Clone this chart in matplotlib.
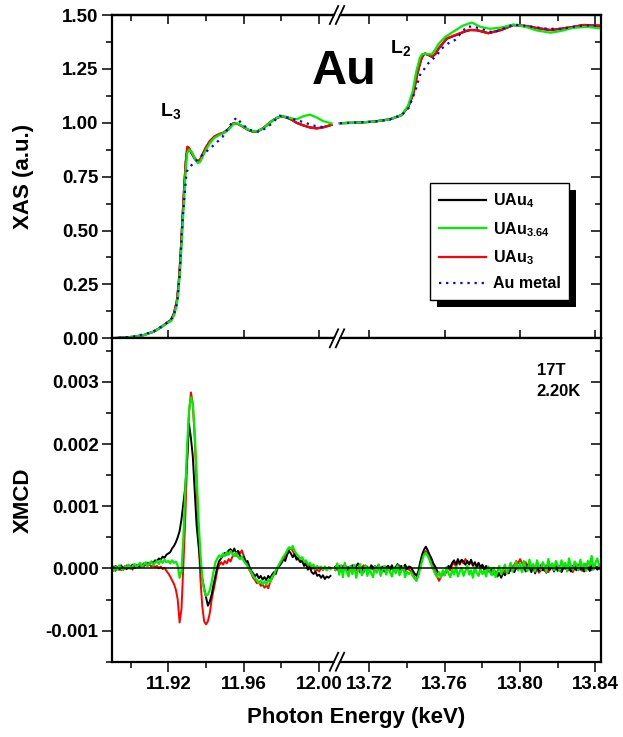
import numpy as np
import matplotlib
matplotlib.use("Agg")
import matplotlib.pyplot as plt
from matplotlib.patches import Rectangle, Polygon
from matplotlib.lines import Line2D
from matplotlib.transforms import IdentityTransform
from matplotlib.ticker import MultipleLocator, FormatStrFormatter

plt.rcParams['font.family'] = ['Liberation Sans', 'DejaVu Sans']
plt.rcParams['font.weight'] = 'bold'
plt.rcParams['axes.labelweight'] = 'bold'
plt.rcParams['mathtext.fontset'] = 'custom'
plt.rcParams['mathtext.rm'] = 'Liberation Sans:bold'
plt.rcParams['mathtext.it'] = 'Liberation Sans:bold'
plt.rcParams['mathtext.bf'] = 'Liberation Sans:bold'
plt.rcParams['mathtext.default'] = 'rm'

# ---------------- XAS data (L3 edge, left segment) ----------------
xas_l3_x = [11.890, 11.896, 11.9015, 11.907, 11.912, 11.916, 11.919, 11.9215, 11.923, 11.9245,
            11.9255, 11.9265, 11.9275, 11.9285, 11.9293, 11.9301, 11.931, 11.9324, 11.934, 11.9356,
            11.937, 11.9385, 11.940, 11.942, 11.9445, 11.947, 11.9495, 11.952, 11.9545, 11.957,
            11.9597, 11.9625, 11.965, 11.9675, 11.9703, 11.973, 11.9756, 11.978, 11.980, 11.9825,
            11.9854, 11.988, 11.9915, 11.995, 11.9986, 12.002, 12.0065]
xas_l3_black = [0.0, 0.003, 0.007, 0.015, 0.03, 0.05, 0.07, 0.085, 0.115, 0.17,
                0.25, 0.38, 0.55, 0.71, 0.82, 0.885, 0.88, 0.858, 0.833, 0.817,
                0.83, 0.858, 0.885, 0.913, 0.935, 0.946, 0.954, 0.972, 0.997, 0.994,
                0.981, 0.966, 0.958, 0.961, 0.974, 0.994, 1.012, 1.024, 1.029, 1.025,
                1.014, 1.0, 0.988, 0.979, 0.974, 0.979, 0.99]
xas_l3_red = [0.0, 0.003, 0.007, 0.015, 0.03, 0.05, 0.07, 0.085, 0.115, 0.17,
              0.25, 0.38, 0.55, 0.71, 0.82, 0.889, 0.884, 0.862, 0.836, 0.818,
              0.832, 0.86, 0.887, 0.915, 0.937, 0.948, 0.955, 0.972, 0.998, 0.995,
              0.982, 0.967, 0.959, 0.962, 0.975, 0.995, 1.013, 1.025, 1.03, 1.026,
              1.015, 1.0, 0.988, 0.978, 0.974, 0.978, 0.99]
xas_l3_green = [0.0, 0.003, 0.007, 0.015, 0.03, 0.05, 0.068, 0.08, 0.105, 0.155,
                0.23, 0.35, 0.51, 0.67, 0.79, 0.86, 0.876, 0.865, 0.835, 0.812,
                0.82, 0.848, 0.875, 0.905, 0.93, 0.943, 0.952, 0.968, 0.995, 0.996,
                0.983, 0.968, 0.96, 0.962, 0.973, 0.993, 1.012, 1.025, 1.03, 1.028,
                1.02, 1.016, 1.03, 1.038, 1.025, 1.008, 0.997]
xas_l3_metal_x = [11.890, 11.9015, 11.912, 11.919, 11.9227, 11.9248, 11.926, 11.927, 11.928, 11.929,
                  11.9297, 11.9324, 11.936, 11.940, 11.9442, 11.9488, 11.9512, 11.9537, 11.9562, 11.959,
                  11.9625, 11.9655, 11.9689, 11.974, 11.979, 11.9854, 11.9933, 11.9968, 12.0039]
xas_l3_metal = [0.0, 0.007, 0.03, 0.07, 0.10, 0.17, 0.29, 0.46, 0.60, 0.70,
                0.773, 0.804, 0.835, 0.865, 0.897, 0.935, 0.967, 1.0, 1.024, 0.995,
                0.97, 0.96, 0.959, 0.99, 1.033, 1.02, 0.998, 0.987, 0.977]

# ---------------- XAS data (L2 edge, right segment) ----------------
xas_l2_x = [13.7044, 13.712, 13.7221, 13.731, 13.7372, 13.7407, 13.7434, 13.7455, 13.7473, 13.7485,
            13.7496, 13.7515, 13.7532, 13.755, 13.7567, 13.7611, 13.7655, 13.7709, 13.7735, 13.7771,
            13.7832, 13.790, 13.7965, 13.8036, 13.809, 13.816, 13.8213, 13.828, 13.8337, 13.8425]
xas_l2_red = [0.998, 1.0, 1.005, 1.016, 1.036, 1.075, 1.137, 1.23, 1.29, 1.315,
              1.322, 1.315, 1.307, 1.32, 1.345, 1.392, 1.407, 1.425, 1.431, 1.43,
              1.415, 1.43, 1.454, 1.449, 1.44, 1.431, 1.436, 1.445, 1.454, 1.451]
xas_l2_black = [0.998, 1.0, 1.005, 1.016, 1.036, 1.074, 1.135, 1.228, 1.288, 1.313,
                1.32, 1.314, 1.306, 1.318, 1.343, 1.39, 1.405, 1.424, 1.43, 1.429,
                1.416, 1.431, 1.453, 1.448, 1.439, 1.43, 1.435, 1.444, 1.453, 1.45]
xas_l2_green_x = [13.7044, 13.712, 13.7221, 13.731, 13.7372, 13.7405, 13.743, 13.745, 13.7468, 13.748,
                  13.7496, 13.7515, 13.7532, 13.755, 13.7567, 13.7602, 13.765, 13.7695, 13.7744, 13.779,
                  13.7841, 13.790, 13.7965, 13.8036, 13.809, 13.816, 13.8213, 13.828, 13.8355, 13.8425]
xas_l2_green = [0.998, 1.0, 1.005, 1.016, 1.036, 1.078, 1.145, 1.24, 1.30, 1.318,
                1.32, 1.318, 1.318, 1.34, 1.365, 1.398, 1.425, 1.45, 1.465, 1.445,
                1.436, 1.442, 1.456, 1.443, 1.428, 1.418, 1.425, 1.44, 1.445, 1.438]
xas_l2_metal_x = [13.7044, 13.7221, 13.731, 13.7372, 13.741, 13.7445, 13.7469, 13.7513, 13.7555, 13.7585,
                  13.762, 13.7655, 13.7717, 13.7753, 13.7859, 13.7965, 13.8036, 13.8143, 13.8213, 13.8337,
                  13.8425]
xas_l2_metal = [0.998, 1.005, 1.016, 1.036, 1.07, 1.15, 1.222, 1.276, 1.31, 1.345,
                1.369, 1.384, 1.446, 1.446, 1.418, 1.456, 1.449, 1.436, 1.436, 1.452,
                1.45]

# ---------------- XMCD data (units of 1e-4) ----------------
xmcd_l3_x = np.round(np.arange(11.890, 12.0065, 0.001), 3)
xmcd_l3_black = [0.2, -0.3, 0.4, 0.1, -0.2, 0.5, 0.0, 0.3, -0.1, 0.4,
                 0.2, 0.6, 0.1, 0.5, 0.3, 0.7, 0.4, 0.8, 0.6, 0.9,
                 0.8, 1.1, 0.9, 1.3, 1.2, 1.6, 1.4, 1.9, 1.7, 2.2,
                 2.4, 2.6, 3.2, 3.6, 4.2, 5.0, 6.0, 7.9, 10.5, 13.0,
                 17.5, 23.2, 21.0, 18.0, 12.5, 7.0, 3.8, 0.8, -1.6, -3.2,
                 -4.6, -6.0, -5.3, -4.2, -2.6, -1.2, 0.3, 1.2, 1.6, 2.1,
                 2.5, 2.2, 2.9, 3.1, 2.6, 3.2, 2.4, 2.8, 2.0, 1.6,
                 1.9, 1.0, 1.2, 0.3, -0.4, -0.8, -1.3, -0.9, -1.6, -1.2,
                 -1.8, -1.4, -1.9, -1.2, -1.6, -1.0, -0.6, -0.9, 0.1, 0.4,
                 0.9, 1.5, 1.2, 2.2, 2.8, 2.4, 1.8, 2.3, 1.4, 1.7,
                 1.0, 1.2, 0.4, 0.7, -0.2, 0.2, -0.6, -0.9, -0.5, -1.2,
                 -1.0, -1.5, -1.1, -1.7, -1.3, -1.5, -1.2]
xmcd_l3_red = [-0.2, 0.3, -0.4, 0.1, 0.4, -0.3, 0.2, -0.1, 0.5, 0.0,
               0.3, -0.2, 0.4, 0.1, 0.6, 0.2, 0.5, 0.3, 0.7, 0.4,
               0.6, 0.3, 0.5, 0.2, 0.4, 0.0, 0.3, -0.1, 0.1, -0.4,
               -0.8, -1.3, -1.9, -2.5, -3.4, -5.0, -8.7, -6.5, 0.5, 8.0,
               17.5, 25.0, 28.3, 26.5, 21.0, 13.5, 5.5, -1.5, -6.0, -8.5,
               -9.0, -8.5, -7.2, -5.0, -3.5, -2.0, -0.3, 0.5, 1.0, 0.6,
               1.2, 0.8, 1.5, 1.1, 1.9, 2.3, 2.0, 2.8, 2.4, 2.9,
               2.0, 1.2, 0.5, -0.3, -0.8, -1.5, -1.9, -2.4, -2.1, -2.8,
               -2.6, -3.1, -2.7, -3.2, -2.2, -1.6, -1.0, -0.4, 0.2, 0.6,
               0.9, 1.4, 2.0, 2.4, 3.0, 3.3, 2.8, 2.2, 1.8, 1.4,
               1.1, 1.3, 0.7, 0.9, 0.3, 0.5, -0.1, 0.2, -0.4, -0.2,
               -0.5, 0.1, -0.3, 0.3, -0.1, 0.2, 0.1]
xmcd_l3_green = [0.1, -0.4, 0.3, -0.2, 0.5, 0.0, -0.3, 0.4, 0.1, 0.6,
                 -0.1, 0.3, 0.7, 0.2, 0.5, 0.9, 0.3, 0.6, 1.0, 0.4,
                 0.8, 1.1, 0.5, 0.9, 1.2, 0.7, 1.3, 0.9, 1.4, 1.0,
                 1.2, 0.8, 1.3, 0.9, 1.1, 0.4, -1.5, -0.4, 5.0, 12.5,
                 19.7, 25.5, 27.5, 26.5, 22.0, 15.5, 8.0, 2.5, -1.5, -3.5,
                 -4.4, -4.2, -3.5, -2.2, -0.5, 1.0, 1.6, 2.1, 1.8, 2.4,
                 2.0, 2.6, 2.2, 2.8, 2.3, 2.0, 2.5, 1.8, 1.5, 1.9,
                 1.2, 0.8, 0.4, -0.2, -0.6, -1.2, -1.6, -1.9, -2.4, -2.0,
                 -2.5, -2.1, -2.6, -1.8, -2.2, -1.4, -1.0, -0.3, 0.2, 0.8,
                 1.3, 1.9, 2.3, 2.9, 3.4, 3.1, 3.6, 2.8, 2.3, 2.0,
                 1.5, 1.8, 1.1, 1.3, 0.6, 0.9, 0.3, 0.6, -0.1, 0.4,
                 0.0, 0.3, -0.2, 0.2, -0.3, 0.1, -0.1]

xmcd_l2_x = np.round(np.arange(13.702, 13.8425, 0.001), 3)
xmcd_l2_black = [0.3, -0.2, 0.4, -0.5, 0.1, 0.6, -0.3, 0.2, -0.1, 0.5,
                 -0.4, 0.3, 0.8, -0.2, 0.1, -0.6, 0.4, 0.0, -0.3, 0.5,
                 0.2, -0.4, 0.1, 0.6, -0.2, 0.3, -0.5, 0.2, 0.4, -0.1,
                 0.5, -0.3, 0.1, 0.7, -0.2, 0.4, 0.0, 0.6, -0.1, 0.3,
                 0.2, -0.3, -0.8, -1.2, -0.5, 1.0, 2.2, 3.0, 3.5, 2.9,
                 2.2, 1.6, 0.8, 0.3, -0.4, -0.9, -1.1, -0.6, -0.9, -0.3,
                 0.4, 0.2, 0.9, 1.3, 0.6, 1.5, 0.8, 1.4, 1.1, 0.6,
                 1.2, 0.7, 1.4, 0.5, 1.0, 0.3, 0.9, 0.2, 0.6, -0.1,
                 0.4, -0.3, -0.6, -0.2, -0.9, -0.5, -1.3, -0.8, -1.5, -0.7,
                 -1.1, -0.4, -0.8, 0.1, -0.3, -0.6, 0.2, -0.2, 0.5, -0.4,
                 0.3, -0.5, 0.6, 0.1, -0.6, 0.4, -0.8, 0.2, -0.4, 0.5,
                 -0.3, 0.1, -0.7, 0.3, -0.2, 0.6, -0.5, 0.2, -0.4, 0.4,
                 -0.6, 0.1, 0.5, -0.3, 0.2, -0.5, 0.4, 0.0, -0.3, 0.6,
                 -0.2, 0.3, -0.5, 0.4, 0.1, -0.4, 0.5, -0.1, 0.3, -0.2,
                 0.1]
xmcd_l2_red = [-0.3, 0.2, -0.5, 0.1, 0.4, -0.2, 0.3, -0.4, 0.2, -0.1,
               0.4, -0.3, 0.1, -0.6, 0.2, 0.5, -0.2, 0.3, -0.5, 0.1,
               -0.2, 0.4, -0.4, 0.2, 0.0, -0.5, 0.3, -0.1, 0.4, -0.3,
               0.1, -0.4, 0.3, -0.2, 0.5, -0.3, 0.1, -0.5, 0.2, -0.2,
               -0.4, -0.9, -1.5, -1.8, -1.0, 0.3, 1.5, 2.4, 2.8, 2.3,
               1.6, 0.9, 0.2, -0.6, -1.3, -2.0, -1.4, -0.8, -1.1, -0.4,
               0.1, -0.3, 0.6, 0.9, 0.3, 1.1, 0.6, 1.3, 0.8, 1.5,
               1.0, 0.6, 1.2, 0.4, 0.9, 0.2, 0.7, -0.1, 0.4, -0.3,
               0.2, -0.5, -0.2, -0.7, -0.4, -0.9, -0.6, -1.0, -0.5, -0.8,
               -0.3, -0.6, 0.0, -0.4, 0.3, 0.6, 1.2, 0.8, 1.5, 0.9,
               0.6, 1.0, 0.3, 0.7, -0.2, 0.4, -0.5, 0.1, -0.7, -0.3,
               0.2, -0.4, 0.5, -0.6, 0.1, 0.4, -0.3, 0.6, -0.2, 0.3,
               -0.4, 0.2, -0.1, 0.5, -0.3, 0.4, -0.6, 0.1, 0.6, -0.2,
               0.3, -0.4, 0.2, 0.7, -0.1, 0.4, -0.3, 0.5, 0.0, 0.3,
               -0.1]
xmcd_l2_green = [-0.2, 0.8, -1.0, 0.5, -1.4, 0.9, -0.6, -1.3, 0.4, -0.9,
                 0.6, -1.5, -0.3, 0.7, -1.1, -0.4, 0.5, -1.2, 0.2, -0.8,
                 -1.4, 0.3, -0.7, 0.6, -1.2, -0.2, 0.4, -1.0, 0.1, -0.6,
                 -1.3, 0.2, -0.8, 0.5, -1.1, -0.3, 0.3, -1.4, -0.5, -0.9,
                 -0.6, -1.2, -1.6, -2.0, -1.2, 0.0, 1.2, 2.2, 2.5, 2.0,
                 1.3, 0.5, -0.2, -0.9, -1.4, -0.6, -1.5, -0.3, -1.1, 0.2,
                 -0.8, -1.4, -0.2, -1.0, 0.3, -1.3, -0.5, 0.1, -1.2, -0.4,
                 0.4, -1.0, -0.3, -1.5, 0.2, -0.7, -1.2, 0.0, -0.9, -0.4,
                 -1.3, 0.3, -0.6, -1.1, 0.1, -1.4, -0.5, 0.4, -1.0, -0.2,
                 0.6, -0.8, -0.1, 0.9, -0.5, 0.3, 1.1, -0.3, 0.8, -0.6,
                 1.2, 0.2, -0.4, 1.4, 0.0, 0.7, -0.5, 1.3, 0.3, -0.2,
                 1.0, 0.4, -0.6, 1.5, 0.1, 0.8, -0.3, 1.2, 0.5, -0.4,
                 1.3, 0.2, 0.9, -0.5, 1.6, 0.3, -0.2, 1.1, 0.6, -0.3,
                 1.4, 0.1, 0.8, -0.4, 1.2, 0.5, 2.0, -0.2, 0.9, 1.6,
                 0.4]

assert len(xmcd_l3_x) == len(xmcd_l3_black) == len(xmcd_l3_red) == len(xmcd_l3_green)
assert len(xmcd_l2_x) == len(xmcd_l2_black) == len(xmcd_l2_red) == len(xmcd_l2_green)

series_labels = ['UAu$_4$', 'UAu$_{3.64}$', 'UAu$_3$', 'Au metal']
c_black, c_green, c_red, c_blue = '#000000', '#00ee00', '#ff0000', '#0000ff'

# ---------------- figure layout ----------------
W, H = 623, 737
fig = plt.figure(figsize=(W / 100, H / 100), dpi=100)
L, S, R = 111.7 / W, 333.5 / W, 600.5 / W
yt, ym, yb = 1 - 15 / H, 1 - 338.3 / H, 1 - 661.7 / H
axTL = fig.add_axes([L, ym, S - L, yt - ym])
axTR = fig.add_axes([S, ym, R - S, yt - ym])
axBL = fig.add_axes([L, yb, S - L, ym - yb])
axBR = fig.add_axes([S, yb, R - S, ym - yb])

xl_left = (11.89, 12.0076)
xl_right = (13.701, 13.8427)
SPW = 1.6

for ax in (axTL, axTR, axBL, axBR):
    for sp in ax.spines.values():
        sp.set_linewidth(SPW)
    ax.xaxis.set_major_locator(MultipleLocator(0.04))
    ax.xaxis.set_minor_locator(MultipleLocator(0.02))
    ax.xaxis.set_major_formatter(FormatStrFormatter('%.2f'))
for ax in (axTL, axBL):
    ax.spines['right'].set_visible(False)
    ax.set_xlim(*xl_left)
for ax in (axTR, axBR):
    ax.spines['left'].set_visible(False)
    ax.set_xlim(*xl_right)

for ax in (axTL, axTR):
    ax.set_ylim(0, 1.5)
    ax.yaxis.set_major_locator(MultipleLocator(0.25))
    ax.yaxis.set_minor_locator(MultipleLocator(0.125))
    ax.yaxis.set_major_formatter(FormatStrFormatter('%.2f'))
for ax in (axBL, axBR):
    ax.set_ylim(-0.0015, 0.0037)
    ax.yaxis.set_major_locator(MultipleLocator(0.001))
    ax.yaxis.set_minor_locator(MultipleLocator(0.0005))
    ax.yaxis.set_major_formatter(FormatStrFormatter('%.3f'))

TW = 1.1
TLS = 13.5
for ax in (axTL, axBL):
    ax.tick_params(axis='y', which='both', left=True, right=False, direction='out',
                   labelleft=True, labelsize=TLS, width=TW, pad=2.5)
    ax.tick_params(axis='y', which='major', length=7)
    ax.tick_params(axis='y', which='minor', length=4)
for ax in (axTR, axBR):
    ax.tick_params(axis='y', which='both', left=False, right=True, direction='in',
                   labelleft=False, labelright=False, width=TW)
    ax.tick_params(axis='y', which='major', length=7.5)
    ax.tick_params(axis='y', which='minor', length=4)

for ax in (axTL, axTR):
    ax.tick_params(axis='x', which='both', top=False, bottom=True, labelbottom=False, width=TW)
    ax.tick_params(axis='x', which='major', direction='inout', length=12)
    ax.tick_params(axis='x', which='minor', direction='out', length=5)
    sec = ax.secondary_xaxis('top')
    sec.xaxis.set_major_locator(MultipleLocator(0.04))
    sec.xaxis.set_minor_locator(MultipleLocator(0.02))
    sec.tick_params(axis='x', which='both', direction='in', labeltop=False, width=TW)
    sec.tick_params(axis='x', which='major', length=6.5)
    sec.tick_params(axis='x', which='minor', length=4)
    sec.spines['top'].set_linewidth(SPW)
    for side in ('left', 'right', 'bottom'):
        if side in sec.spines:
            sec.spines[side].set_visible(False)

for ax in (axBL, axBR):
    ax.tick_params(axis='x', which='both', top=False, bottom=True, direction='out',
                   labelbottom=True, labelsize=TLS, width=TW, pad=3.5)
    ax.tick_params(axis='x', which='major', length=7)
    ax.tick_params(axis='x', which='minor', length=4)

# ---------------- XAS curves ----------------
LW = 1.6
for ax, x, xg, xm, yb_, yr_, yg_, ym_ in (
        (axTL, xas_l3_x, xas_l3_x, xas_l3_metal_x, xas_l3_black, xas_l3_red, xas_l3_green, xas_l3_metal),
        (axTR, xas_l2_x, xas_l2_green_x, xas_l2_metal_x, xas_l2_black, xas_l2_red, xas_l2_green, xas_l2_metal)):
    hb, = ax.plot(x, yb_, color=c_black, lw=LW, label=series_labels[0])
    hr, = ax.plot(x, yr_, color=c_red, lw=LW, label=series_labels[2])
    hg, = ax.plot(xg, yg_, color=c_green, lw=LW, label=series_labels[1])
    hm, = ax.plot(xm, ym_, color=c_blue, lw=1.6, ls=(0, (1, 2.2)), label=series_labels[3])

leg = axTR.legend([hb, hg, hr, hm], series_labels, loc='upper left',
                  bbox_to_anchor=(0.363, 0.481), borderaxespad=0, fancybox=False,
                  edgecolor='black', framealpha=1, fontsize=11.5, handlelength=2.9,
                  handletextpad=0.45, labelspacing=0.6, borderpad=0.55)
leg.get_frame().set_linewidth(1.0)
leg.set_zorder(6)

# ---------------- XMCD curves ----------------
scale = 1e-4
for ax, x, yb_, yr_, yg_ in ((axBL, xmcd_l3_x, xmcd_l3_black, xmcd_l3_red, xmcd_l3_green),
                             (axBR, xmcd_l2_x, xmcd_l2_black, xmcd_l2_red, xmcd_l2_green)):
    ax.plot(x, np.array(yr_) * scale, color=c_red, lw=1.4, zorder=2)
    ax.plot(x, np.array(yb_) * scale, color=c_black, lw=1.4, zorder=2.1)
    ax.plot(x, np.array(yg_) * scale, color=c_green, lw=1.6, zorder=2.2)
    ax.axhline(0, color='black', lw=1.1, zorder=4)

# ---------------- labels and annotations ----------------
lab_x = (34 - 111.7) / (333.5 - 111.7)
axTL.set_ylabel('XAS (a.u.)', fontsize=16, fontweight='bold')
axBL.set_ylabel('XMCD', fontsize=16, fontweight='bold')
axTL.yaxis.set_label_coords(lab_x, 0.5)
axBL.yaxis.set_label_coords(lab_x, 0.5)
fig.text(355.8 / W, 1 - 718 / H, 'Photon Energy (keV)', ha='center', va='center',
         fontsize=16, fontweight='bold')

fig.text(312 / W, 1 - 84 / H, 'Au', ha='left', va='baseline', fontsize=35)
fig.text(159.5 / W, 1 - 116 / H, 'L$_3$', ha='left', va='baseline', fontsize=14)
fig.text(390 / W, 1 - 53.3 / H, 'L$_2$', ha='left', va='baseline', fontsize=14)
fig.text(536.7 / W, 1 - 375 / H, '17T', ha='left', va='baseline', fontsize=12)
fig.text(536.7 / W, 1 - 396 / H, '2.20K', ha='left', va='baseline', fontsize=12)

# ---------------- axis break marks ----------------
def break_mark(ypx, cx=337.0):
    Y = H - ypx
    gap = 3.0
    pts = []
    for dx in (-gap, gap):
        pts.append(((cx + dx - 4.2, Y - 9.0), (cx + dx + 4.2, Y + 9.0)))
    (a0, a1), (b0, b1) = pts
    poly = Polygon([((a0[0] + 0.9) / W, a0[1] / H), ((a1[0] + 0.9) / W, a1[1] / H),
                    ((b1[0] - 0.9) / W, b1[1] / H), ((b0[0] - 0.9) / W, b0[1] / H)],
                   closed=True, transform=fig.transFigure, facecolor='white',
                   edgecolor='none', zorder=10)
    fig.add_artist(poly)
    for p0, p1 in pts:
        fig.add_artist(Line2D([p0[0] / W, p1[0] / W], [p0[1] / H, p1[1] / H],
                              transform=fig.transFigure, color='black', lw=1.3, zorder=11))

for ypx in (15, 338.3, 661.7):
    break_mark(ypx)

# ---------------- legend shadow ----------------
fig.canvas.draw()
bb = leg.get_window_extent()
shadow = Rectangle((bb.x0 + 7, bb.y0 - 7), bb.width, bb.height, transform=IdentityTransform(),
                   facecolor='black', edgecolor='none', zorder=5.5, clip_on=False)
axTR.add_artist(shadow)

fig.savefig('out.png', dpi=100)
